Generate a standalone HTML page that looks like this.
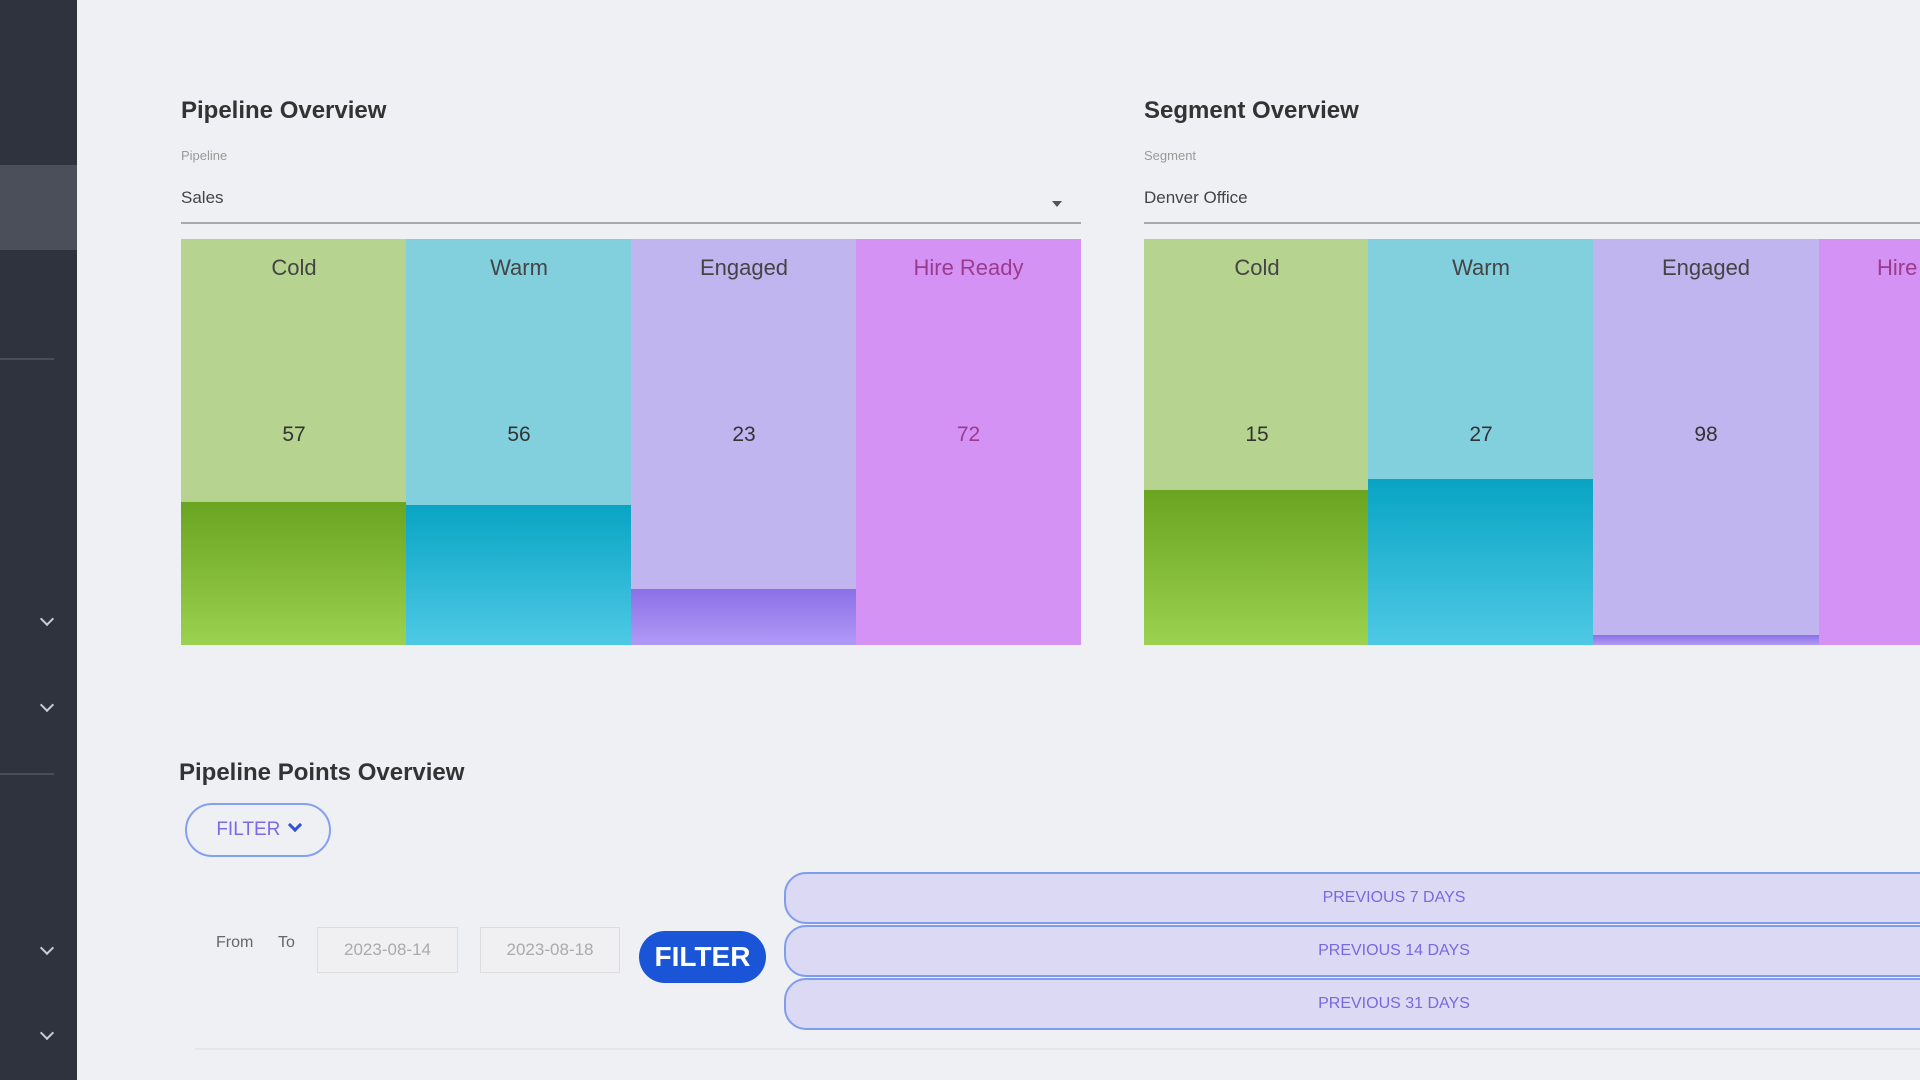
<!DOCTYPE html>
<html><head><style>
*{margin:0;padding:0;box-sizing:border-box}
body{width:1920px;height:1080px;overflow:hidden;background:#eef0f4;font-family:"Liberation Sans",sans-serif;position:relative}
.a{position:absolute}
.side{left:0;top:0;width:77px;height:1080px;background:#2e333d}
.chev{position:absolute;left:42px;width:10px;height:10px;border-right:2px solid #c8ccd4;border-bottom:2px solid #c8ccd4;transform:rotate(45deg)}
.h{font-size:24px;font-weight:bold;color:#333}
.lbl{font-size:13px;color:#999}
.val{font-size:17px;color:#444}
.col{position:absolute;top:0;height:406px;width:226px}
.col .t{position:absolute;top:16px;width:100%;text-align:center;font-size:22px;color:#444}
.col .n{position:absolute;top:184px;width:100%;text-align:center;font-size:21px;color:#333}
.col .b{position:absolute;left:0;right:0;bottom:0}
.prev{position:absolute;left:784px;width:1220px;height:52px;background:#dcd9f4;border:2px solid #7f9cee;border-radius:22px 0 0 22px;text-align:center;line-height:48px;font-size:16px;color:#7a68e0}
</style></head><body>
<div class="a side">
<div class="a" style="left:0;top:165px;width:77px;height:85px;background:#4a4f5a"></div>
<div class="a" style="left:0;top:358px;width:54px;height:2px;background:#474d59"></div>
<div class="a" style="left:0;top:773px;width:54px;height:2px;background:#474d59"></div>
<div class="chev" style="top:614px"></div>
<div class="chev" style="top:700px"></div>
<div class="chev" style="top:943px"></div>
<div class="chev" style="top:1028px"></div>
</div>

<div class="a h" style="left:181px;top:97px">Pipeline Overview</div>
<div class="a lbl" style="left:181px;top:148px">Pipeline</div>
<div class="a val" style="left:181px;top:188px">Sales</div>
<div class="a" style="left:1052px;top:201px;border-left:5px solid transparent;border-right:5px solid transparent;border-top:6px solid #555"></div>
<div class="a" style="left:181px;top:222px;width:900px;height:2px;background:#aaa"></div>

<div class="a" style="left:181px;top:239px;width:900px;height:406px">
 <div class="col" style="left:0;background:#b6d490"><div class="b" style="top:263px;background:linear-gradient(#6aa420,#9bd24f)"></div><div class="t">Cold</div><div class="n">57</div></div>
 <div class="col" style="left:225px;background:#82d0de"><div class="b" style="top:266px;background:linear-gradient(#08a4c4,#4ec9e5)"></div><div class="t">Warm</div><div class="n">56</div></div>
 <div class="col" style="left:450px;background:#c0b5ee"><div class="b" style="top:350px;background:linear-gradient(#8b70e6,#b09af6)"></div><div class="t">Engaged</div><div class="n">23</div></div>
 <div class="col" style="left:675px;width:225px;background:#d493f4"><div class="t" style="color:#9c3a8e">Hire Ready</div><div class="n" style="color:#9c3a8e">72</div></div>
</div>

<div class="a h" style="left:1144px;top:97px">Segment Overview</div>
<div class="a lbl" style="left:1144px;top:148px">Segment</div>
<div class="a val" style="left:1144px;top:188px">Denver Office</div>
<div class="a" style="left:1144px;top:222px;width:776px;height:2px;background:#aaa"></div>

<div class="a" style="left:1144px;top:239px;width:776px;height:406px;overflow:hidden">
 <div class="col" style="left:0;background:#b6d490"><div class="b" style="top:251px;background:linear-gradient(#6aa420,#9bd24f)"></div><div class="t">Cold</div><div class="n">15</div></div>
 <div class="col" style="left:224px;background:#82d0de"><div class="b" style="top:240px;background:linear-gradient(#08a4c4,#4ec9e5)"></div><div class="t">Warm</div><div class="n">27</div></div>
 <div class="col" style="left:449px;background:#c0b5ee"><div class="b" style="top:396px;background:linear-gradient(#8b70e6,#b09af6)"></div><div class="t">Engaged</div><div class="n">98</div></div>
 <div class="col" style="left:675px;width:120px;background:#d493f4"><div class="t" style="color:#9c3a8e;text-align:left;left:58px;width:auto;white-space:nowrap">Hire Ready</div></div>
</div>

<div class="a h" style="left:179px;top:759px">Pipeline Points Overview</div>
<div class="a" style="left:185px;top:803px;width:146px;height:54px;border:2px solid #86a0f0;border-radius:27px;text-align:center;line-height:50px;font-size:19px;color:#7a6ae8">FILTER <span style="display:inline-block;width:10px;height:10px;border-right:3px solid #2f54d8;border-bottom:3px solid #2f54d8;transform:rotate(45deg);margin:0 0 5px 4px"></span></div>

<div class="a" style="left:216px;top:934px;font-size:16px;color:#666">From</div>
<div class="a" style="left:278px;top:934px;font-size:16px;color:#666">To</div>
<div class="a" style="left:317px;top:927px;width:141px;height:46px;border:1px solid #ddd;background:#f0f0f2;font-size:17px;color:#aaa;text-align:center;line-height:44px">2023-08-14</div>
<div class="a" style="left:480px;top:927px;width:140px;height:46px;border:1px solid #ddd;background:#f0f0f2;font-size:17px;color:#aaa;text-align:center;line-height:44px">2023-08-18</div>
<div class="a" style="left:639px;top:931px;width:127px;height:52px;background:#1a55d8;border-radius:26px;color:#fff;font-weight:bold;font-size:28px;text-align:center;line-height:52px">FILTER</div>

<div class="prev" style="top:872px">PREVIOUS 7 DAYS</div>
<div class="prev" style="top:925px">PREVIOUS 14 DAYS</div>
<div class="prev" style="top:978px">PREVIOUS 31 DAYS</div>

<div class="a" style="left:195px;top:1048px;width:1725px;height:2px;background:#e6e6ea"></div>
</body></html>
